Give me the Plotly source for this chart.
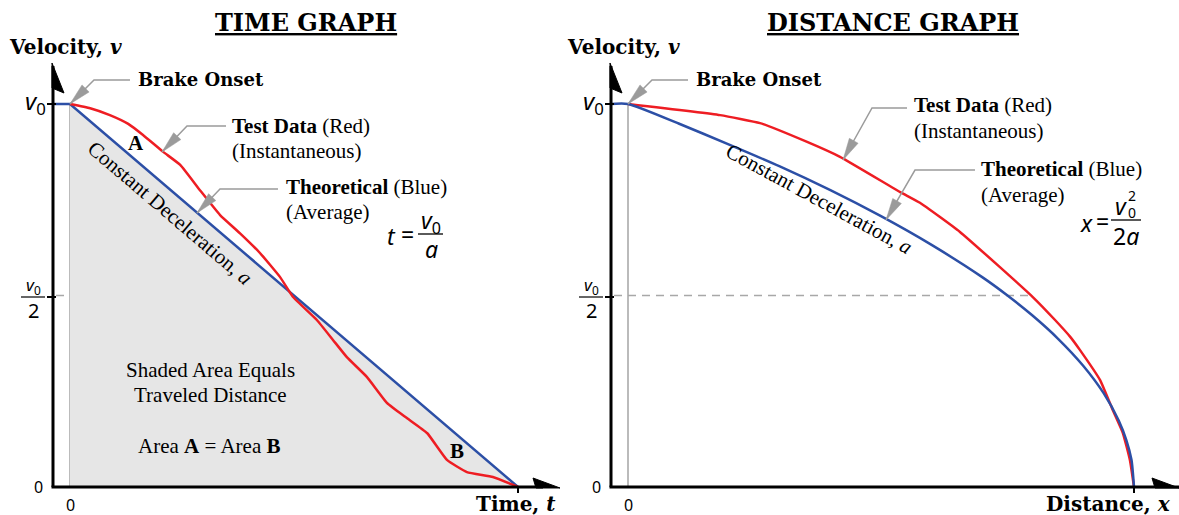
import plotly.graph_objects as go

# ---------------- data (normalised: v/v0, t/t_stop, x/x_stop) ----------------
time_blue_t = [-0.038, 0.0, 1.0]
time_blue_v = [1.0, 1.0, 0.0]

time_red_t = [0.0, 0.045, 0.089, 0.13, 0.163, 0.208, 0.246, 0.290, 0.335, 0.379, 0.424,
              0.469, 0.498, 0.551, 0.587, 0.618, 0.663, 0.708, 0.752, 0.797, 0.842,
              0.886, 0.944, 1.0]
time_red_v = [1.0, 0.989, 0.971, 0.948, 0.919, 0.875, 0.841, 0.775, 0.710, 0.663, 0.611,
              0.548, 0.496, 0.436, 0.384, 0.339, 0.287, 0.219, 0.180, 0.141, 0.070,
              0.039, 0.026, 0.0]

dist_blue_x = [-0.034, 0.0, 0.1, 0.2, 0.3, 0.4, 0.5, 0.6, 0.7, 0.75, 0.8, 0.85, 0.9,
               0.94, 0.97, 0.985, 0.995, 1.0]
dist_blue_v = [1.0, 1.0, 0.949, 0.894, 0.837, 0.775, 0.707, 0.632, 0.548, 0.5, 0.447,
               0.387, 0.316, 0.245, 0.173, 0.122, 0.071, 0.0]

dist_red_x = [0.0, 0.182, 0.261, 0.354, 0.419, 0.538, 0.577, 0.656, 0.735, 0.800, 0.844,
              0.874, 0.893, 0.933, 0.958, 0.978, 0.992, 1.0]
dist_red_v = [1.0, 0.971, 0.950, 0.901, 0.862, 0.770, 0.742, 0.666, 0.574, 0.496, 0.436,
              0.392, 0.358, 0.279, 0.201, 0.141, 0.070, 0.0]

titles = ["TIME GRAPH", "DISTANCE GRAPH"]
x_titles = ["Time, ", "Distance, "]
x_syms = ["t", "x"]

# ---------------- layout geometry (pixels) ----------------
W, H = 1179, 515
X0L, X1L = 70, 518      # t = 0 and t = 1
X0R, X1R = 628, 1134    # x = 0 and x = 1
Y0, Y1 = 487, 104       # v = 0 and v = v0
DX = X0R - X0L

BLUE = "#2c4fa6"
RED = "#ee1d23"
GRAY = "#9b9b9b"
SERIF = "Liberation Serif"
HEAD = "DejaVu Serif"
MATH = "Noto Sans"


def px(x):
    return x / W


def py(y):
    return 1 - y / H


fig = go.Figure()

# shaded area under the theoretical line (time graph)
fig.add_trace(go.Scatter(x=time_blue_t[1:], y=time_blue_v[1:], mode="lines",
                         line=dict(width=0), fill="tozeroy", fillcolor="#e6e6e6",
                         hoverinfo="skip", showlegend=False, xaxis="x", yaxis="y"))

shapes = []
anns = []

# reference lines: t=0 vertical and v0/2 dashed
for xr in ("x", "x2"):
    shapes.append(dict(type="line", xref=xr, yref="y", x0=0, x1=0, y0=0, y1=1,
                       line=dict(color="#a5a5a5", width=1.5), layer="below"))
for xr, x_start_px, x_end in (("x", 56, 0.5), ("x2", 614, 0.8)):
    if xr == "x":
        xs = (x_start_px - X0L) / (X1L - X0L)
    else:
        xs = (x_start_px - X0R) / (X1R - X0R)
    shapes.append(dict(type="line", xref=xr, yref="y", x0=xs, x1=x_end, y0=0.5, y1=0.5,
                       line=dict(color="#a8a8a8", width=1.5, dash="8px,6px"), layer="below"))

# lines
fig.add_trace(go.Scatter(x=time_blue_t, y=time_blue_v, mode="lines",
                         line=dict(color=BLUE, width=2.5), showlegend=False,
                         xaxis="x", yaxis="y"))
fig.add_trace(go.Scatter(x=time_red_t, y=time_red_v, mode="lines",
                         line=dict(color=RED, width=2.5, shape="spline", smoothing=0.4),
                         showlegend=False, xaxis="x", yaxis="y"))
fig.add_trace(go.Scatter(x=dist_red_x, y=dist_red_v, mode="lines",
                         line=dict(color=RED, width=2.5, shape="spline", smoothing=0.4),
                         showlegend=False, xaxis="x2", yaxis="y"))
fig.add_trace(go.Scatter(x=dist_blue_x, y=dist_blue_v, mode="lines",
                         line=dict(color=BLUE, width=2.5, shape="spline", smoothing=0.6),
                         showlegend=False, xaxis="x2", yaxis="y"))


def path(points, fill=None, color="black", width=0):
    d = "M " + " L ".join(f"{px(a):.5f},{py(b):.5f}" for a, b in points)
    if fill:
        d += " Z"
    s = dict(type="path", xref="paper", yref="paper", path=d,
             line=dict(color=color, width=width))
    if fill:
        s["fillcolor"] = fill
    shapes.append(s)


def arrowhead(tip, tail, length=22, hw=5, color=GRAY):
    ux, uy = tip[0] - tail[0], tip[1] - tail[1]
    n = (ux ** 2 + uy ** 2) ** 0.5
    ux, uy = ux / n, uy / n
    bx, by = tip[0] - length * ux, tip[1] - length * uy
    nx, ny = -uy, ux
    path([tip, (bx + hw * nx, by + hw * ny), (bx - hw * nx, by - hw * ny)],
         fill=color, color=color, width=0.5)


def text(x, y, t, size=21, family=SERIF, xanchor="left", angle=0, color="black"):
    anns.append(dict(x=px(x), y=py(y), xref="paper", yref="paper", text=t,
                     showarrow=False, xanchor=xanchor, yanchor="middle",
                     textangle=angle, font=dict(family=family, size=size, color=color)))


def callout(pts):
    path(pts, color=GRAY, width=1.5)
    arrowhead(pts[-1], pts[-2])


for i, off in enumerate((0, DX)):
    ax_x = 53 + off
    # axes
    path([(ax_x, Y0), (ax_x, 66)], color="black", width=3)
    path([(ax_x - 1.5, Y0), (ax_x + 490 if i == 0 else W, Y0)], color="black", width=3)
    path([(ax_x - 1, 63), (ax_x + 11, 93), (ax_x - 1, 88)], fill="black", color="black", width=1)
    xe = 560 if i == 0 else 1179
    path([(xe - 27, 478), (xe, 488), (xe - 24, 488)], fill="black", color="black", width=1)
    # ticks
    path([(ax_x - 6, Y1), (ax_x + 3, Y1)], color="black", width=2)
    path([(ax_x - 6, 297), (ax_x + 3, 297)], color="black", width=2)
    xt = X1L if i == 0 else X1R
    path([(xt, Y0), (xt, 493)], color="black", width=2)

    # title and axis titles
    cx = 306 if i == 0 else 893
    text(cx, 22, f"<b><u>{titles[i]}</u></b>", size=24, family=HEAD, xanchor="center")
    text(7 + off, 47, "<b>Velocity, <i>v</i></b>", size=20, family=HEAD)
    text(136 + off, 80, "<b>Brake Onset</b>", size=18, family=HEAD)
    xt_left = 474 if i == 0 else 1044
    text(xt_left, 504, f"<b>{x_titles[i]}<i>{x_syms[i]}</i></b>", size=20, family=HEAD)

    # tick labels
    text(70 + off, 505, "0", size=16, family=MATH, xanchor="center")
    text(45 + off, 487, "0", size=16, family=MATH, xanchor="right")
    text(48 + off, 102, "<i>v</i><sub>0</sub>", size=24, family=MATH, xanchor="right")
    text(33 + off, 285, "<i>v</i><sub>0</sub>", size=17, family=MATH, xanchor="center")
    path([(21 + off, 297), (45 + off, 297)], color="black", width=1.2)
    text(33 + off, 310, "2", size=20, family=MATH, xanchor="center")

    # brake onset callout
    callout([(130 + off, 80), (94 + off, 80), (70 + off, 104)])

# left panel callouts and notes
callout([(226, 126), (187, 126), (162, 152)])
callout([(278, 189), (220, 189), (197, 213)])
text(230, 126, "<b>Test Data</b> (Red)")
text(230, 151, "(Instantaneous)")
text(284, 187, "<b>Theoretical</b> (Blue)")
text(284, 212, "(Average)")
text(136, 143, "<b>A</b>", xanchor="center")
text(457, 451, "<b>B</b>", xanchor="center")
text(170, 213, "Constant Deceleration, <i>a</i>", angle=40.5, xanchor="center")
text(210, 370, "Shaded Area Equals", xanchor="center")
text(210, 395, "Traveled Distance", xanchor="center")
text(209, 446, "Area <b>A</b> = Area <b>B</b>", xanchor="center")

# left formula t = v0 / a
text(392, 236, "<i>t</i>", size=23, family=MATH, xanchor="center")
text(407, 234, "=", size=23, family=MATH, xanchor="center")
path([(418, 234), (443, 234)], color="black", width=1.3)
text(431, 221, "<i>v</i><sub>0</sub>", size=23, family=MATH, xanchor="center")
text(431, 249, "<i>a</i>", size=23, family=MATH, xanchor="center")

# right panel callouts and notes
callout([(907, 108), (872, 108), (843, 160)])
callout([(975, 170), (915, 170), (886, 220)])
text(912, 105, "<b>Test Data</b> (Red)")
text(912, 131, "(Instantaneous)")
text(979, 169, "<b>Theoretical</b> (Blue)")
text(979, 195, "(Average)")
text(819, 199, "Constant Deceleration, <i>a</i>", angle=28.5, xanchor="center")

# right formula x = v0^2 / 2a
text(1086, 223, "<i>x</i>", size=23, family=MATH, xanchor="center")
text(1102, 221, "=", size=23, family=MATH, xanchor="center")
path([(1111, 220), (1141, 220)], color="black", width=1.3)
text(1121, 206, "<i>v</i>", size=23, family=MATH, xanchor="center")
text(1132, 212, "0", size=14, family=MATH, xanchor="center")
text(1132, 196, "2", size=14, family=MATH, xanchor="center")
text(1126, 236, "2<i>a</i>", size=23, family=MATH, xanchor="center")

fig.update_layout(
    width=W, height=H, autosize=False,
    margin=dict(l=0, r=0, t=0, b=0),
    paper_bgcolor="white", plot_bgcolor="white",
    showlegend=False,
    xaxis=dict(domain=[0, 1], range=[(0 - X0L) / (X1L - X0L), (W - X0L) / (X1L - X0L)],
               visible=False, fixedrange=True),
    xaxis2=dict(domain=[0, 1], overlaying="x", anchor="y",
                range=[(0 - X0R) / (X1R - X0R), (W - X0R) / (X1R - X0R)],
                visible=False, fixedrange=True),
    yaxis=dict(domain=[0, 1], range=[(Y0 - H) / (Y0 - Y1), Y0 / (Y0 - Y1)],
               visible=False, fixedrange=True),
    shapes=shapes, annotations=anns,
)

fig.write_html("out.html", config={"displayModeBar": False},
               post_script="document.body.style.margin='0';document.body.style.overflow='hidden';")
